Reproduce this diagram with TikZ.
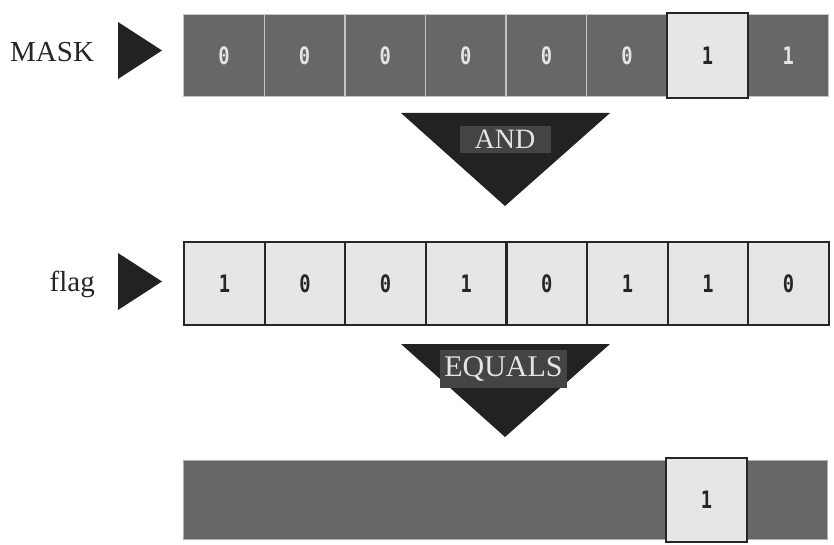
\documentclass[tikz,border=0pt]{standalone}
\usepackage{fontspec}
\setmainfont{Liberation Serif}
\newfontfamily\digitfont{DejaVu Sans Mono}
\definecolor{cellgray}{HTML}{676767}
\definecolor{sepgray}{HTML}{C4C4C4}
\definecolor{lightcell}{HTML}{E6E6E6}
\definecolor{darkline}{HTML}{262626}
\definecolor{trifill}{HTML}{222222}
\definecolor{labelbox}{HTML}{444444}
\definecolor{lighttext}{HTML}{E4E4E4}
\newcommand{\dg}[1]{\scalebox{0.78}[1]{\digitfont\bfseries\fontsize{24}{24}\selectfont #1}}
\begin{document}
\begin{tikzpicture}[x=1pt,y=-1pt,
  graycell/.style={draw=sepgray,line width=1.4pt,fill=cellgray,text=lighttext,
    minimum width=80.6pt,minimum height=82pt,inner sep=0pt,anchor=north west},
  litecell/.style={draw=darkline,line width=2.2pt,fill=lightcell,text=darkline,
    minimum width=80.6pt,minimum height=83pt,inner sep=0pt,anchor=north west},
  hilite/.style={draw=darkline,line width=2.2pt,fill=lightcell,text=darkline,
    minimum width=81pt,minimum height=85pt,inner sep=0pt},
  tri/.style={fill=trifill},
  oplabel/.style={fill=labelbox,text=lighttext,inner sep=0pt},
  rowlabel/.style={inner sep=0pt,text=darkline,font=\fontsize{29}{29}\selectfont}]
\useasboundingbox (0,0) rectangle (834,545);
\fill[white] (0,0) rectangle (834,545);
% MASK row
\foreach \i/\v in {1/0,2/0,3/0,4/0,5/0,6/0,7/1,8/1}{
  \node[graycell] (m\i) at ({183+(\i-1)*80.6},14) {\dg{\v}};
}
\node[hilite] (mh) at (m7.center) {\dg{1}};
\node[rowlabel,anchor=base west] (masklbl) at (10,62) {MASK};
\fill[tri] (118,22) -- (162,50.5) -- (118,79) -- cycle;
% AND
\fill[tri] (401,113) -- (610,113) -- (505,206) -- cycle;
\node[oplabel,minimum width=91pt,minimum height=27pt] (andlbl) at (505,139.5) {\fontsize{28}{28}\selectfont\raisebox{-1pt}{AND}};
% flag row
\foreach \i/\v in {1/1,2/0,3/0,4/1,5/0,6/1,7/1,8/0}{
  \node[litecell] (f\i) at ({183+(\i-1)*80.6},241) {\dg{\v}};
}
\node[rowlabel,anchor=base east] (flaglbl) at (95,291) {flag};
\fill[tri] (118,253) -- (162,281.5) -- (118,310) -- cycle;
% EQUALS
\fill[tri] (401,344) -- (610,344) -- (505,437) -- cycle;
\node[oplabel,minimum width=127pt,minimum height=38pt] (eqlbl) at (503.5,369) {\fontsize{30}{30}\selectfont\raisebox{-1pt}{EQUALS}};
% result row
\node[draw=sepgray!80!cellgray,line width=1.4pt,fill=cellgray,minimum width=644pt,minimum height=79pt,inner sep=0pt,anchor=north west] (res) at (183,460) {};
\node[hilite,minimum height=84pt] (rh) at (706.5,500) {\dg{1}};
\end{tikzpicture}
\end{document}
